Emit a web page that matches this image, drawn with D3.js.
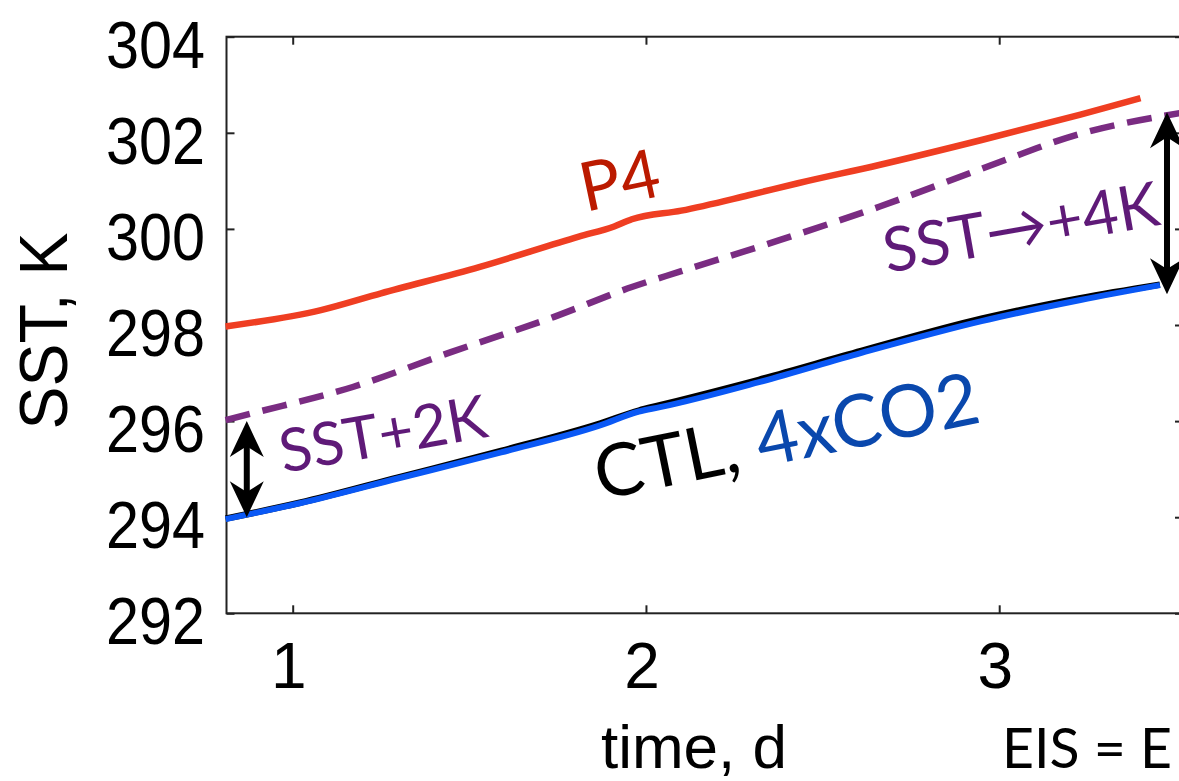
<!DOCTYPE html>
<html lang="en">
<head>
  <meta charset="UTF-8">
  <title>SST time series</title>
  <style>
    body { margin: 0; background: #fff; overflow: hidden; }
  </style>
</head>
<body>

  <svg id="svg" width="1179" height="781"></svg>

  <script src="https://d3js.org/d3.v7.min.js"></script>
  <script>
    // time in days, SST in K
    const p4 = [[0.81, 297.97], [1.08, 298.31], [1.25, 298.66], [1.53, 299.21], [1.81, 299.84],
      [1.91, 300.05], [1.96, 300.2], [2.10, 300.38], [2.29, 300.7], [2.43, 300.95],
      [2.66, 301.33], [2.95, 301.85], [3.23, 302.38], [3.40, 302.72]]
    const sstPlus = [[0.81, 296.02], [0.89, 296.17], [1.17, 296.71], [1.45, 297.44], [1.74, 298.17],
      [1.96, 298.79], [2.10, 299.12], [2.38, 299.77], [2.66, 300.46], [2.95, 301.25],
      [3.23, 301.98], [3.52, 302.42]]
    const ctl = [[0.81, 293.97], [1.02, 294.3], [1.30, 294.83], [1.59, 295.38], [1.87, 295.95],
      [1.98, 296.22], [2.04, 296.33], [2.32, 296.86], [2.61, 297.46], [2.95, 298.13],
      [3.23, 298.56], [3.455, 298.84]]
    const co2 = [[0.81, 293.96], [1.02, 294.29], [1.30, 294.81], [1.59, 295.35], [1.87, 295.91],
      [1.98, 296.2], [2.04, 296.29], [2.32, 296.81], [2.61, 297.42], [2.95, 298.08],
      [3.23, 298.52], [3.455, 298.83]]

    const xTicks = [1, 2, 3]
    const yTicks = [292, 294, 296, 298, 300, 302, 304]

    // double arrows: [time, from, to]
    const arrows = [[0.87, 296.0, 294.0], [3.475, 302.43, 298.64]]

    const svg = d3.select('#svg')

    const x = d3.scaleLinear().domain([0.8126, 3.5203]).range([226.5, 1183])
    const y = d3.scaleLinear().domain([292, 304]).range([613.3, 36.7])

    const tickFont = '"Liberation Sans", Arial, sans-serif'
    const annoFont = 'Lato, "Open Sans", sans-serif'

    // frame
    svg.append('rect')
      .attr('x', x.range()[0]).attr('y', y.range()[1])
      .attr('width', x.range()[1] - x.range()[0])
      .attr('height', y.range()[0] - y.range()[1])
      .attr('fill', 'none').attr('stroke', '#222').attr('stroke-width', 2)

    // axes with inward ticks
    const axisStyle = g => {
      g.select('.domain').remove()
      g.selectAll('.tick line').attr('stroke', '#222').attr('stroke-width', 2)
    }
    svg.append('g').attr('transform', `translate(0,${y.range()[0]})`)
      .call(d3.axisBottom(x).tickValues(xTicks).tickSize(-8).tickFormat(''))
      .call(axisStyle)
    svg.append('g').attr('transform', `translate(0,${y.range()[1]})`)
      .call(d3.axisTop(x).tickValues(xTicks).tickSize(-8).tickFormat(''))
      .call(axisStyle)
    svg.append('g').attr('transform', `translate(${x.range()[0]},0)`)
      .call(d3.axisLeft(y).tickValues(yTicks).tickSize(-8).tickFormat(''))
      .call(axisStyle)
    svg.append('g').attr('transform', `translate(${x.range()[1]},0)`)
      .call(d3.axisRight(y).tickValues(yTicks).tickSize(-8).tickFormat(''))
      .call(axisStyle)

    // tick labels (narrow helvetica look)
    svg.append('g').selectAll('text')
      .data(yTicks)
      .join('text')
      .attr('x', 205).attr('y', d => y(d) + 31)
      .attr('text-anchor', 'end')
      .attr('textLength', 99).attr('lengthAdjust', 'spacingAndGlyphs')
      .style('font-family', tickFont).style('font-size', '66px')
      .text(d => d)

    svg.append('g').selectAll('text')
      .data(xTicks)
      .join('text')
      .attr('x', d => x(d) - 4).attr('y', 688)
      .attr('text-anchor', 'middle')
      .style('font-family', tickFont).style('font-size', '64px')
      .text(d => d)

    svg.append('text')
      .attr('transform', 'translate(67,331) rotate(-90)')
      .attr('text-anchor', 'middle')
      .attr('textLength', 197).attr('lengthAdjust', 'spacingAndGlyphs')
      .style('font-family', tickFont).style('font-size', '68px')
      .text('SST, K')

    svg.append('text')
      .attr('x', 601).attr('y', 768)
      .attr('textLength', 186).attr('lengthAdjust', 'spacingAndGlyphs')
      .style('font-family', tickFont).style('font-size', '62px')
      .text('time, d')

    svg.append('text')
      .attr('x', 1002).attr('y', 768)
      .attr('textLength', 170).attr('lengthAdjust', 'spacingAndGlyphs')
      .style('font-family', annoFont).style('font-size', '56px')
      .text('EIS = E')

    // series
    const line = d3.line().x(d => x(d[0])).y(d => y(d[1])).curve(d3.curveMonotoneX)

    svg.append('path').datum(ctl)
      .attr('d', line).attr('fill', 'none')
      .attr('stroke', '#000').attr('stroke-width', 6.5)
    svg.append('path').datum(co2)
      .attr('d', line).attr('fill', 'none')
      .attr('stroke', '#0a58f5').attr('stroke-width', 6)
    svg.append('path').datum(p4)
      .attr('d', line).attr('fill', 'none')
      .attr('stroke', '#ef3e22').attr('stroke-width', 6.5)
    svg.append('path').datum(sstPlus)
      .attr('d', line).attr('fill', 'none')
      .attr('stroke', '#7a2c82').attr('stroke-width', 6.5)
      .attr('stroke-dasharray', '25,13')

    // double-headed arrows
    const head = (cx, cy, dir) => {
      const len = 36, w = 17
      return `M${cx},${cy} L${cx - w},${cy - dir * len} L${cx},${cy - dir * len * 0.7} L${cx + w},${cy - dir * len} Z`
    }
    arrows.forEach(a => {
      const ax = x(a[0]), y1 = y(a[1]), y2 = y(a[2])
      svg.append('line')
        .attr('x1', ax).attr('x2', ax)
        .attr('y1', y1 + 20).attr('y2', y2 - 20)
        .attr('stroke', '#000').attr('stroke-width', 6)
      svg.append('path').attr('d', head(ax, y1, -1)).attr('fill', '#000')
      svg.append('path').attr('d', head(ax, y2, 1)).attr('fill', '#000')
    })

    // annotations
    const notes = [
      { t: 1.828, v: 300.35, rot: -12, size: 68, parts: [['P4', '#bb1a00']] },
      { t: 0.973, v: 294.92, rot: -10, size: 60, parts: [['SST+2K', '#5f1a78']] },
      { t: 2.683, v: 299.08, rot: -10, size: 62, parts: [['SST\u2192+4K', '#5f1a78']] },
      { t: 1.870, v: 294.36, rot: -11.5, size: 73, parts: [['CTL, ', '#000'], ['4xCO2', '#0a48ad']] }
    ]
    notes.forEach(n => {
      const txt = svg.append('text')
        .attr('transform', `translate(${x(n.t)},${y(n.v)}) rotate(${n.rot})`)
        .style('font-family', annoFont).style('font-size', n.size + 'px')
      n.parts.forEach(p => txt.append('tspan').attr('fill', p[1]).text(p[0]))
    })
  </script>
</body>
</html>
